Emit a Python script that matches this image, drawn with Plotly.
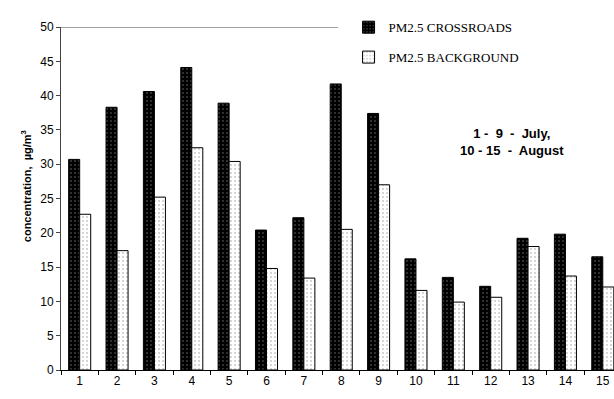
import plotly.graph_objects as go

days = [str(i) for i in range(1, 16)]
crossroads = [30.7, 38.3, 40.6, 44.1, 38.9, 20.4, 22.2, 41.7, 37.4, 16.2, 13.5, 12.2, 19.2, 19.8, 16.5]
background = [22.7, 17.4, 25.2, 32.4, 30.4, 14.8, 13.4, 20.5, 27.0, 11.6, 9.9, 10.6, 18.0, 13.7, 12.1]
y_ticks = [0, 5, 10, 15, 20, 25, 30, 35, 40, 45, 50]

fig = go.Figure()
fig.add_trace(go.Bar(
    x=days, y=crossroads, name="PM2.5 CROSSROADS", legendgroup="a",
    marker=dict(color="black",
                line=dict(color="black", width=1),
                pattern=dict(shape=".", bgcolor="black", fgcolor="#8a8a8a",
                             size=4, solidity=0.08, fillmode="replace")),
))
fig.add_trace(go.Bar(
    x=days, y=background, name="PM2.5 BACKGROUND", legendgroup="b",
    marker=dict(color="white",
                line=dict(color="black", width=1),
                pattern=dict(shape=".", bgcolor="white", fgcolor="#888888",
                             size=4, solidity=0.08, fillmode="replace")),
))

fig.update_layout(
    width=614, height=399,
    margin=dict(l=61, r=0, t=27, b=29),
    paper_bgcolor="white", plot_bgcolor="white",
    barmode="group", bargap=0.41, bargroupgap=0,
    font=dict(family="Liberation Sans, Arial", size=12, color="black"),
    showlegend=True,
    legend=dict(x=0.52, y=1.043, xanchor="left", yanchor="top",
                bgcolor="white", borderwidth=0,
                font=dict(family="Liberation Serif, Times New Roman", size=13, color="black"),
                tracegroupgap=10, traceorder="grouped"),
    xaxis=dict(type="category", range=[-0.5, 14.3], tickson="boundaries",
               ticks="outside", ticklen=4, tickcolor="black",
               showline=True, linecolor="black", linewidth=1,
               showgrid=False, zeroline=False,
               tickfont=dict(size=12)),
    yaxis=dict(range=[0, 50], tickvals=y_ticks,
               ticks="outside", ticklen=4, tickcolor="#444444",
               showline=True, linecolor="#444444", linewidth=1,
               showgrid=False, zeroline=False,
               tickfont=dict(size=12)),
    shapes=[dict(type="line", xref="paper", yref="y", x0=0, x1=0.501, y0=50, y1=50,
                 line=dict(color="#444444", width=1))],
    annotations=[
        dict(text="<b>concentration,  µg/m<sup>3</sup></b>", textangle=-90,
             xref="paper", yref="paper", x=-0.062, y=0.535,
             xanchor="center", yanchor="middle", showarrow=False,
             font=dict(size=11, family="Liberation Sans, Arial", color="black")),
        dict(text="<b>1 -  9  -  July,</b><br><b>10 - 15  -  August</b>",
             xref="paper", yref="paper", x=(512 - 61) / 553, y=(370 - 142) / 343,
             xanchor="center", yanchor="middle", showarrow=False, align="center",
             font=dict(size=13, family="Liberation Sans, Arial", color="black")),
    ],
)

fig.write_html("out.html")
